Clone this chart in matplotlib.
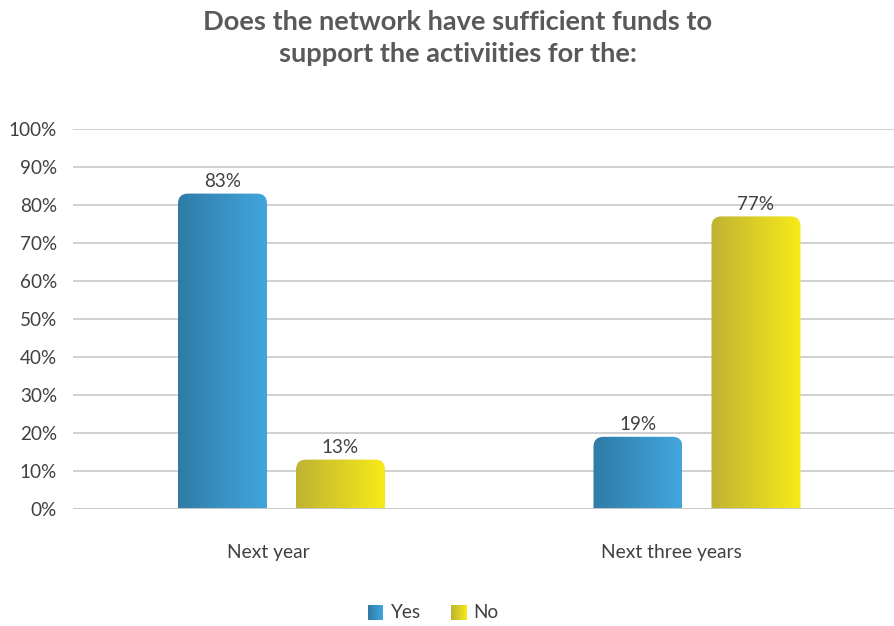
import numpy as np
import matplotlib
matplotlib.use("Agg")
import matplotlib.pyplot as plt
from matplotlib.path import Path
from matplotlib.patches import PathPatch
from matplotlib.colors import LinearSegmentedColormap
from matplotlib.transforms import ScaledTranslation

categories = ["Next year", "Next three years"]
series_names = ["Yes", "No"]
yes_values = [83, 19]
no_values = [13, 77]
y_ticks = [0, 10, 20, 30, 40, 50, 60, 70, 80, 90, 100]

title = "Does the network have sufficient funds to\nsupport the activiities for the:"

# gradient colours (left -> right) for each series
yes_cmap = LinearSegmentedColormap.from_list("yes", ["#2f7ba6", "#42a6dd"])
no_cmap = LinearSegmentedColormap.from_list("no", ["#bfb333", "#f7ea1a"])

plt.rcParams["font.family"] = ["Lato", "DejaVu Sans"]

W, H = 895, 626
fig = plt.figure(figsize=(W / 100, H / 100), dpi=100)

px_per_unit = 415.5
ax_left, ax_right = 73, 895
ax_bottom, ax_top = 509, 129
ax = fig.add_axes([ax_left / W, 1 - ax_bottom / H,
                   (ax_right - ax_left) / W, (ax_bottom - ax_top) / H])
x0 = -(281.5 - ax_left) / px_per_unit
x1 = 1 + (ax_right - 697) / px_per_unit
ax.set_xlim(x0, x1)
ax.set_ylim(0, 100)

for s in ax.spines.values():
    s.set_visible(False)
ax.set_yticks(y_ticks)
ax.set_yticklabels([f"{t}%" for t in y_ticks])
ax.yaxis.grid(True, color="#d0d0d0", linewidth=1.4)
ax.set_axisbelow(True)
ax.tick_params(axis="y", length=0, pad=11.5, labelsize=13.6, labelcolor="#404040")
ax.tick_params(axis="x", length=0, pad=25, labelsize=13.9, labelcolor="#404040")
ax.set_xticks(range(len(categories)))
ax.set_xticklabels(categories)
# category labels sit a little left of the group centres
for lbl, shift in zip(ax.get_xticklabels(), [-13, -26]):
    lbl.set_transform(lbl.get_transform() + ScaledTranslation(shift / 100, 0, fig.dpi_scale_trans))

bar_w = 89 / px_per_unit
offset = 59 / px_per_unit
rx = 10 / px_per_unit
ry = 10 / ((ax_bottom - ax_top) / 100)


def rounded_top(x, w, h):
    r_y = min(ry, h)
    verts = [
        (x, 0), (x, h - r_y), (x, h), (x + rx, h),
        (x + w - rx, h), (x + w, h), (x + w, h - r_y),
        (x + w, 0), (x, 0),
    ]
    codes = [Path.MOVETO, Path.LINETO, Path.CURVE3, Path.CURVE3,
             Path.LINETO, Path.CURVE3, Path.CURVE3, Path.LINETO, Path.CLOSEPOLY]
    return Path(verts, codes)


grad = np.linspace(0, 1, 256).reshape(1, -1)
for values, sign, cmap in [(yes_values, -1, yes_cmap), (no_values, 1, no_cmap)]:
    for i, v in enumerate(values):
        left = i + sign * offset - bar_w / 2
        patch = PathPatch(rounded_top(left, bar_w, v), facecolor="none",
                          edgecolor="none", zorder=2)
        ax.add_patch(patch)
        im = ax.imshow(grad, cmap=cmap, aspect="auto", zorder=2,
                       extent=(left, left + bar_w, 0, v), interpolation="bilinear")
        im.set_clip_path(patch)
        ax.text(i + sign * offset, v + 1.0, f"{v}%", ha="center", va="bottom",
                fontsize=13.6, color="#404040")

ax.axhline(0, color="#c8c8c8", linewidth=1.4, zorder=3)

fig.text(458 / W, 1 - 38 / H, title, ha="center", va="center", fontsize=19.6,
         fontweight="bold", color="#595959", linespacing=1.45)

# legend: gradient squares with labels
leg_items = [(368, 391, series_names[0], yes_cmap), (451, 473, series_names[1], no_cmap)]
for sq_x, txt_x, name, cmap in leg_items:
    lax = fig.add_axes([sq_x / W, 1 - 620 / H, 15 / W, 15 / H])
    lax.imshow(grad, cmap=cmap, aspect="auto", interpolation="bilinear")
    lax.axis("off")
    fig.text(txt_x / W, 1 - 613 / H, name, ha="left", va="center",
             fontsize=13.6, color="#404040")

fig.savefig("out.png", dpi=100)
